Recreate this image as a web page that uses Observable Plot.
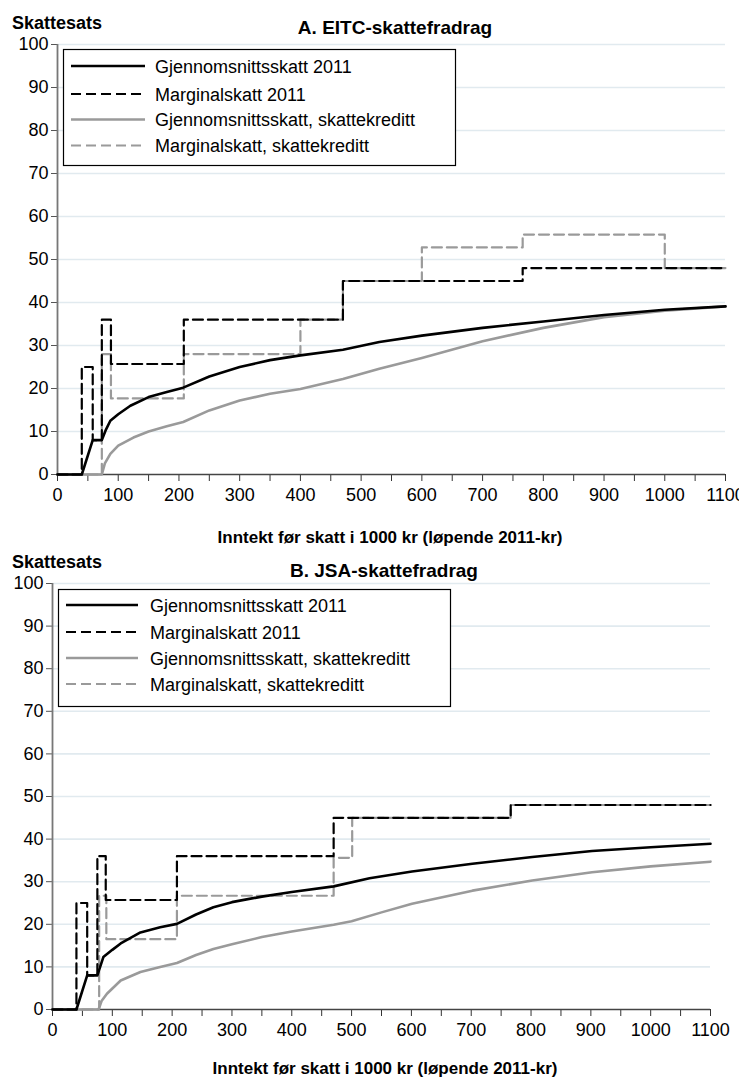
<!DOCTYPE html>
<html><head><meta charset="utf-8">
<script src="https://cdn.jsdelivr.net/npm/d3@7"></script>
<script src="https://cdn.jsdelivr.net/npm/@observablehq/plot@0.6"></script>
<style>
body{margin:0;background:#fff;font-family:Arial,"Liberation Sans",sans-serif;}
#page{position:relative;width:739px;height:1081px;overflow:hidden;background:#fff;}
.slot{position:absolute;left:0;width:739px;}
.slot svg{max-width:none !important;}
#overlay{position:absolute;left:0;top:0;pointer-events:none;}
</style></head><body><div id="page"></div>
<script>
// ---------- data ----------
const xTickValues = [0,100,200,300,400,500,600,700,800,900,1000,1100];
const yTickValues = [0,10,20,30,40,50,60,70,80,90,100];
const seriesNames = ["Gjennomsnittsskatt 2011","Marginalskatt 2011","Gjennomsnittsskatt, skattekreditt","Marginalskatt, skattekreditt"];
const yTitle = "Skattesats";
const xTitle = "Inntekt før skatt i 1000 kr (løpende 2011-kr)";
const panelTitles = ["A. EITC-skattefradrag","B. JSA-skattefradrag"];

// Panel A: EITC
const eitcAvg2011X = [0,40,58,73,80,87,100,120,150,180,207,250,300,350,400,470,530,600,700,800,900,1000,1100];
const eitcAvg2011Y = [0,0,8,8,10.5,12.5,14,16,18,19.2,20.2,22.8,25,26.6,27.7,29,30.8,32.3,34.1,35.6,37.1,38.3,39.1];
const eitcMarg2011X = [0,40,58,73,88,208,470,766,1100];
const eitcMarg2011Y = [0,25,8,36,25.7,36,45,48,48];
const eitcAvgCreditX = [0,73,78,87,100,125,150,180,207,250,300,350,400,470,530,600,700,800,900,1000,1100];
const eitcAvgCreditY = [0,0,2.6,4.8,6.7,8.6,10,11.2,12.2,14.9,17.2,18.8,19.9,22.2,24.6,27.1,31,34.1,36.6,38.1,39.1];
const eitcMargCreditX = [0,73,88,208,400,470,600,766,1000,1100];
const eitcMargCreditY = [0,28,17.7,28,36,45,52.8,55.8,48,48];

// Panel B: JSA
const jsaAvg2011X = [0,40,58,75,85,100,114,147,180,208,240,269,300,350,400,470,530,601,702,802,902,1000,1100];
const jsaAvg2011Y = [0,0,8,8,12.3,14,15.5,18.1,19.3,20.1,22.3,24,25.2,26.5,27.6,28.9,30.8,32.4,34.2,35.8,37.2,38.1,38.9];
const jsaMarg2011X = [0,40,58,75,89,208,470,766,1100];
const jsaMarg2011Y = [0,25,8,36,25.7,36,45,48,48];
const jsaAvgCreditX = [0,77,82,91,114,147,180,208,240,269,300,350,400,470,500,550,601,702,802,902,1000,1100];
const jsaAvgCreditY = [0,0,2,3.7,6.8,8.8,10,10.9,12.8,14.2,15.3,17,18.3,19.9,20.7,22.8,24.8,27.9,30.3,32.2,33.6,34.7];
const jsaMargCreditX = [0,78,90,208,470,501,766,1100];
const jsaMargCreditY = [0,26.7,16.5,26.7,35.6,45,48,48];

// ---------- styles ----------
const seriesStyle = [
  {stroke:"#000", width:2.6, dash:null},
  {stroke:"#000", width:2.2, dash:"10,5"},
  {stroke:"#9a9a9a", width:2.6, dash:null},
  {stroke:"#9a9a9a", width:2.2, dash:"10,5"}
];

const toRows = (xs, ys) => xs.map((x,i)=>({x, y: ys[i]}));
const FONT = "Arial, 'Liberation Sans', sans-serif";

function panel(o){
  const sets = o.series;
  const drawOrder = [2,3,0,1];
  return Plot.plot({
    width: 739, height: o.height,
    marginLeft: o.ml, marginRight: o.mr, marginTop: o.mt, marginBottom: o.mb,
    style: {fontFamily: FONT, fontSize: "18px", color: "#000", background: "transparent", overflow: "visible", maxWidth: "none"},
    x: {domain:[0,1100]},
    y: {domain:[0,100]},
    marks: [
      Plot.ruleY(yTickValues.filter(d=>d>0), {stroke:"#e1eaef", strokeWidth:1.6}),
      Plot.axisX({ticks: d3.range(0,1101,50), tickFormat: d => xTickValues.includes(d) ? String(d) : "", tickSize:7, tickPadding:7, label:null, stroke:"#333", fontSize:18}),
      Plot.axisY({ticks: yTickValues, tickSize:6, tickPadding:3, label:null, stroke:"#555", fontSize:18}),
      Plot.ruleX([0], {stroke:"#777", strokeWidth:1.8}),
      Plot.ruleY([0], {stroke:"#444", strokeWidth:1.5}),
      ...drawOrder.map(i => Plot.line(toRows(sets[i][0], sets[i][1]), {
        x:"x", y:"y",
        stroke: seriesStyle[i].stroke, strokeWidth: seriesStyle[i].width,
        strokeDasharray: seriesStyle[i].dash || undefined,
        curve: seriesStyle[i].dash ? "step-after" : "linear",
        strokeLinejoin: "round"
      }))
    ]
  });
}

const page = document.getElementById("page");
function place(svg, top){
  const d = document.createElement("div");
  d.className = "slot";
  d.style.top = top + "px";
  d.appendChild(svg);
  page.appendChild(d);
}

const plotA = panel({height:520, ml:57, mr:14, mt:44, mb:46, series:[
  [eitcAvg2011X, eitcAvg2011Y],[eitcMarg2011X, eitcMarg2011Y],
  [eitcAvgCreditX, eitcAvgCreditY],[eitcMargCreditX, eitcMargCreditY]]});
place(plotA, 0);

const plotB = panel({height:500, ml:52, mr:29, mt:35, mb:39, series:[
  [jsaAvg2011X, jsaAvg2011Y],[jsaMarg2011X, jsaMarg2011Y],
  [jsaAvgCreditX, jsaAvgCreditY],[jsaMargCreditX, jsaMargCreditY]]});
place(plotB, 548);

// ---------- overlay: titles and legends ----------
const ov = d3.select(page).append("svg").attr("id","overlay")
  .attr("width",739).attr("height",1081).style("font-family", FONT);

function texts(yTitleBase, title, titleX, titleBase, xTitleBase, xTitleX){
  ov.append("text").attr("x",12).attr("y",yTitleBase).attr("font-size",18).attr("font-weight","bold").text(yTitle);
  ov.append("text").attr("x",titleX).attr("y",titleBase).attr("text-anchor","middle").attr("font-size",19).attr("font-weight","bold").text(title);
  ov.append("text").attr("x",xTitleX).attr("y",xTitleBase).attr("text-anchor","middle").attr("font-size",17).attr("font-weight","bold").text(xTitle);
}
texts(29, panelTitles[0], 395, 34, 543, 390);
texts(568, panelTitles[1], 384, 577, 1074, 385);

function legend(bx, by, bw, bh, lx1, lx2, tx, rows){
  const g = ov.append("g");
  g.append("rect").attr("x",bx+0.5).attr("y",by+0.5).attr("width",bw).attr("height",bh)
    .attr("fill","#fff").attr("stroke","#000").attr("stroke-width",1.2);
  seriesNames.forEach((name,i)=>{
    const y = rows[i];
    g.append("line").attr("x1",lx1).attr("x2",lx2).attr("y1",y).attr("y2",y)
      .attr("stroke",seriesStyle[i].stroke).attr("stroke-width",seriesStyle[i].width)
      .attr("stroke-dasharray",seriesStyle[i].dash);
    g.append("text").attr("x",tx).attr("y",y+6.5).attr("font-size",18).attr("fill","#000").text(name);
  });
}
legend(63, 49, 392, 116, 71, 145, 155, [66,94,119.5,145.5]);
legend(58, 589, 392, 117, 66, 138, 150, [605,632,658,684]);
</script></body></html>
